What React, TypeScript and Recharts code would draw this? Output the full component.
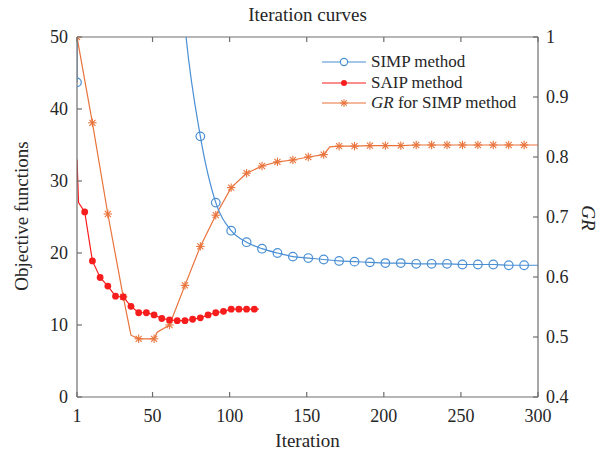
import { Label, Legend, Line, LineChart, ReferenceLine, XAxis, YAxis } from 'recharts';

const BLUE = '#4a8fd4';
const RED = '#f81d1d';
const ORANGE = '#e9733b';
const AXIS = '#6e6e6e';
const INK = '#262626';
const FONT = '"Liberation Serif", "DejaVu Serif", "Times New Roman", serif';
const PLOT_TOP = 37;

// x positions (iteration) and values
const xTicks = [1, 50, 100, 150, 200, 250, 300];
const leftTicks = [0, 10, 20, 30, 40, 50];
const rightTicks = [0.4, 0.5, 0.6, 0.7, 0.8, 0.9, 1];

const simpIter = [1, 2, 11, 21, 31, 41, 51, 61, 71, 81, 91, 101, 111, 121, 131, 141, 151, 161, 171, 181, 191, 201, 211, 221, 231, 241, 251, 261, 271, 281, 291, 300];
const simpObj = [43.7, 300, 300, 260, 220, 170, 120, 82, 51.6, 36.2, 27.0, 23.1, 21.5, 20.6, 20.0, 19.5, 19.3, 19.1, 18.9, 18.8, 18.7, 18.6, 18.6, 18.5, 18.5, 18.5, 18.4, 18.4, 18.4, 18.3, 18.3, 18.3];

const saipIter = [1, 2, 6, 11, 16, 21, 26, 31, 36, 41, 46, 51, 56, 61, 66, 71, 76, 81, 86, 91, 96, 101, 106, 111, 116, 119];
const saipObj = [33, 27, 25.7, 18.9, 16.6, 15.4, 14.0, 13.9, 12.6, 11.7, 11.7, 11.4, 10.9, 10.7, 10.6, 10.6, 10.8, 11.0, 11.4, 11.7, 11.9, 12.2, 12.2, 12.2, 12.2, 12.2];

const grIter = [1, 11, 21, 31, 36, 41, 51, 53, 61, 71, 81, 91, 101, 111, 121, 131, 141, 151, 161, 165, 171, 181, 191, 201, 211, 221, 231, 241, 251, 261, 271, 281, 291, 300];
const grVal = [1.0, 0.857, 0.705, 0.567, 0.503, 0.497, 0.497, 0.508, 0.52, 0.586, 0.651, 0.703, 0.749, 0.773, 0.785, 0.792, 0.795, 0.8, 0.804, 0.817, 0.818, 0.818, 0.819, 0.819, 0.819, 0.82, 0.82, 0.82, 0.82, 0.82, 0.82, 0.82, 0.82, 0.82];

const legendNames = ['SIMP method', 'SAIP method', 'for SIMP method'];

const simpData = simpIter.map((it, i) => ({ it, v: simpObj[i] }));
const saipData = saipIter.map((it, i) => ({ it, v: saipObj[i] }));
const grData = grIter.map((it, i) => ({ it, v: grVal[i] }));

const tickStyle = { fontSize: 18, fill: INK, fontFamily: FONT };

const Star = ({ cx, cy, r = 4.2, color }: { cx: number; cy: number; r?: number; color: string }) => {
  const d = r * 0.72;
  return (
    <g stroke={color} strokeWidth={1.1}>
      <line x1={cx - r} y1={cy} x2={cx + r} y2={cy} />
      <line x1={cx} y1={cy - r} x2={cx} y2={cy + r} />
      <line x1={cx - d} y1={cy - d} x2={cx + d} y2={cy + d} />
      <line x1={cx - d} y1={cy + d} x2={cx + d} y2={cy - d} />
    </g>
  );
};

// bottom tick label plus the matching inward tick on the top frame edge
const XTick = (p: any) => {
  const { x, y, payload } = p;
  return (
    <g>
      <line x1={x} y1={PLOT_TOP} x2={x} y2={PLOT_TOP + 5} stroke={AXIS} strokeWidth={1.2} />
      <text x={x} y={y} dy="0.71em" textAnchor="middle" {...tickStyle}>
        {payload.value}
      </text>
    </g>
  );
};

const simpDot = (p: any) => {
  const { cx, cy, payload, index } = p;
  if ((payload.it - 1) % 10 !== 0) return <g key={`s${index}`} />;
  return <circle key={`s${index}`} cx={cx} cy={cy} r={4.3} fill="none" stroke={BLUE} strokeWidth={1.2} />;
};

const saipDot = (p: any) => {
  const { cx, cy, payload, index } = p;
  if ((payload.it - 1) % 5 !== 0 || payload.it === 1) return <g key={`a${index}`} />;
  return <circle key={`a${index}`} cx={cx} cy={cy} r={3.4} fill={RED} stroke="none" />;
};

const grDot = (p: any) => {
  const { cx, cy, payload, index } = p;
  if ((payload.it - 1) % 10 !== 0) return <g key={`g${index}`} />;
  return (
    <g key={`g${index}`}>
      <Star cx={cx} cy={cy} color={ORANGE} />
    </g>
  );
};

const LegendBox = () => {
  const colors = [BLUE, RED, ORANGE];
  return (
    <div style={{ fontFamily: FONT, fontSize: 17, color: INK, lineHeight: '20.5px' }}>
      {legendNames.map((name, i) => (
        <div key={name} style={{ display: 'flex', alignItems: 'center', height: 20.5 }}>
          <svg width={48} height={12} style={{ marginRight: 3 }}>
            <line x1={2} y1={6} x2={46} y2={6} stroke={colors[i]} strokeWidth={1.2} />
            {i === 0 && <circle cx={24} cy={6} r={3.6} fill="white" stroke={BLUE} strokeWidth={1.2} />}
            {i === 1 && <circle cx={24} cy={6} r={3} fill={RED} />}
            {i === 2 && <Star cx={24} cy={6} r={3.8} color={ORANGE} />}
          </svg>
          <span>
            {i === 2 && <i>GR </i>}
            {name}
          </span>
        </div>
      ))}
    </div>
  );
};

export default function App() {
  return (
    <div style={{ position: 'relative', width: 600, height: 454, background: 'white' }}>
      <style>{'body{margin:0}'}</style>
      <LineChart
        width={600}
        height={454}
        margin={{ top: PLOT_TOP, right: 0, bottom: 0, left: 0 }}
      >
        <XAxis
          xAxisId="b"
          dataKey="it"
          type="number"
          domain={[1, 300]}
          ticks={xTicks}
          allowDataOverflow
          height={57}
          stroke={AXIS}
          strokeWidth={1.2}
          tickSize={-5}
          tickMargin={17}
          tick={<XTick />}
        >
          <Label value="Iteration" position="insideBottom" offset={7} style={{ fontSize: 19, fill: INK, fontFamily: FONT }} />
        </XAxis>
        <YAxis
          yAxisId="l"
          domain={[0, 50]}
          ticks={leftTicks}
          allowDataOverflow
          width={77}
          stroke={AXIS}
          strokeWidth={1.2}
          tickSize={-5}
          tickMargin={14}
          tick={tickStyle}
        />
        <YAxis
          yAxisId="r"
          orientation="right"
          domain={[0.4, 1]}
          ticks={rightTicks}
          allowDataOverflow
          width={62}
          stroke={AXIS}
          strokeWidth={1.2}
          tickSize={-5}
          tickMargin={13}
          tick={tickStyle}
          tickFormatter={(v: number) => String(Number(v.toFixed(1)))}
        />
        <ReferenceLine xAxisId="b" yAxisId="l" y={50} stroke={AXIS} strokeWidth={1.2} ifOverflow="extendDomain" />
        <Legend
          layout="vertical"
          align="center"
          verticalAlign="middle"
          wrapperStyle={{ top: 52, left: 320, width: 230 }}
          content={() => <LegendBox />}
        />
        <Line
          data={grData}
          xAxisId="b"
          yAxisId="r"
          dataKey="v"
          type="linear"
          stroke={ORANGE}
          strokeWidth={1.2}
          dot={grDot}
          isAnimationActive={false}
        />
        <Line
          data={saipData}
          xAxisId="b"
          yAxisId="l"
          dataKey="v"
          type="linear"
          stroke={RED}
          strokeWidth={1.2}
          dot={saipDot}
          isAnimationActive={false}
        />
        <Line
          data={simpData}
          xAxisId="b"
          yAxisId="l"
          dataKey="v"
          type="monotone"
          stroke={BLUE}
          strokeWidth={1.2}
          dot={simpDot}
          isAnimationActive={false}
        />
      </LineChart>
      <div
        style={{
          position: 'absolute',
          left: 0,
          width: 615,
          top: 4,
          textAlign: 'center',
          fontFamily: FONT,
          fontSize: 19,
          color: INK,
        }}
      >
        Iteration curves
      </div>
      <div
        style={{
          position: 'absolute',
          left: 22,
          top: 216,
          transform: 'translate(-50%, -50%) rotate(-90deg)',
          fontFamily: FONT,
          fontSize: 19,
          color: INK,
          whiteSpace: 'nowrap',
        }}
      >
        Objective functions
      </div>
      <div
        style={{
          position: 'absolute',
          left: 588,
          top: 218,
          transform: 'translate(-50%, -50%) rotate(90deg)',
          fontFamily: FONT,
          fontSize: 19,
          fontStyle: 'italic',
          color: INK,
          whiteSpace: 'nowrap',
        }}
      >
        GR
      </div>
    </div>
  );
}
